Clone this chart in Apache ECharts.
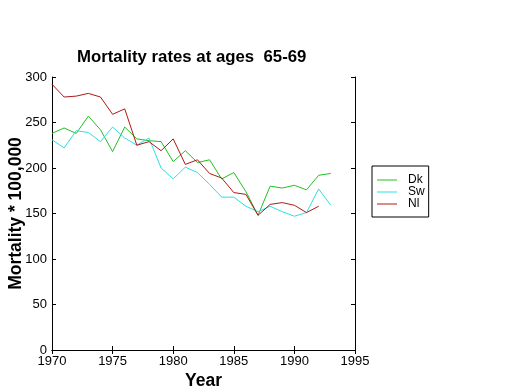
<!DOCTYPE html>
<html><head><meta charset="utf-8">
<script src="https://cdn.jsdelivr.net/npm/echarts@6/dist/echarts.min.js"></script>
<style>html,body{margin:0;padding:0;background:#fff}#c{width:520px;height:390px}</style>
</head><body><div id="c"></div>
<script>
var years = [1970,1971,1972,1973,1974,1975,1976,1977,1978,1979,1980,1981,1982,1983,1984,1985,1986,1987,1988,1989,1990,1991,1992,1993];
var dk = [238,244,238,257,242,218,245,232,230,229,207,219,206,209,188,195,174,148,180,178,181,176,192,194];
var sw = [231,222,241,239,229,245,233,225,233,200,188,201,195,182,168,168,158,152,158,152,147,151,177,159];
var nl = [292,278,279,282,278,259,265,225,229,219,232,204,209,194,189,173,171,148,160,162,159,151,158];
var xTicks = [1970,1975,1980,1985,1990,1995];
var yTicks = [0,50,100,150,200,250,300];

function pairs(v){ return v.map(function(y,i){ return [years[i], y]; }); }

var font = 'Liberation Sans, Arial, sans-serif';
var chart = echarts.init(document.getElementById('c'));
var axisCommon = {
  axisLine:{show:true, lineStyle:{color:'#000', width:1}},
  axisTick:{show:true, inside:true, length:4, lineStyle:{color:'#000'}},
  splitLine:{show:false}
};
chart.setOption({
  animation:false,
  backgroundColor:'#fff',
  title:{text:'Mortality rates at ages  65-69', left:72, top:44,
    textStyle:{fontFamily:font, fontSize:16.8, fontWeight:'bold', color:'#000'}},
  grid:{left:52, right:165, top:77, bottom:40, containLabel:false, outerBoundsMode:'none'},
  legend:{orient:'vertical', left:372, top:166, itemWidth:20, itemHeight:1, itemGap:0, icon:'rect',
    padding:[8,4,7,5], borderColor:'#000', borderWidth:1,
    textStyle:{fontFamily:font, fontSize:12, lineHeight:12, color:'#000', padding:[0,0,0,6]},
    data:['Dk','Sw','Nl']},
  xAxis:[
    Object.assign({type:'value', min:xTicks[0], max:xTicks[xTicks.length-1], interval:5, position:'bottom',
      name:'Year', nameLocation:'middle', nameGap:22, nameMoveOverlap:false,
      nameTextStyle:{fontFamily:font, fontSize:17.5, fontWeight:'bold', color:'#000'},
      axisLabel:{fontFamily:font, fontSize:13, color:'#000', margin:5, formatter:function(v){return String(v);}}}, axisCommon),
    Object.assign({type:'value', min:xTicks[0], max:xTicks[xTicks.length-1], interval:5, position:'top',
      axisLabel:{show:false}}, axisCommon)
  ],
  yAxis:[
    Object.assign({type:'value', min:yTicks[0], max:yTicks[yTicks.length-1], interval:50, position:'left',
      name:'Mortality * 100,000', nameLocation:'middle', nameGap:27, nameMoveOverlap:false,
      nameTextStyle:{fontFamily:font, fontSize:17.5, fontWeight:'bold', color:'#000'},
      axisLabel:{fontFamily:font, fontSize:13, color:'#000', margin:5}}, axisCommon),
    Object.assign({type:'value', min:yTicks[0], max:yTicks[yTicks.length-1], interval:50, position:'right',
      axisLabel:{show:false}}, axisCommon)
  ],
  series:[
    {name:'Dk', type:'line', data:pairs(dk), symbol:'none', lineStyle:{color:'#22c022', width:1}, itemStyle:{color:'#22c022'}},
    {name:'Sw', type:'line', data:pairs(sw), symbol:'none', lineStyle:{color:'#2ee0e0', width:1}, itemStyle:{color:'#2ee0e0'}},
    {name:'Nl', type:'line', data:pairs(nl), symbol:'none', lineStyle:{color:'#b01818', width:1}, itemStyle:{color:'#b01818'}}
  ]
});
</script></body></html>
